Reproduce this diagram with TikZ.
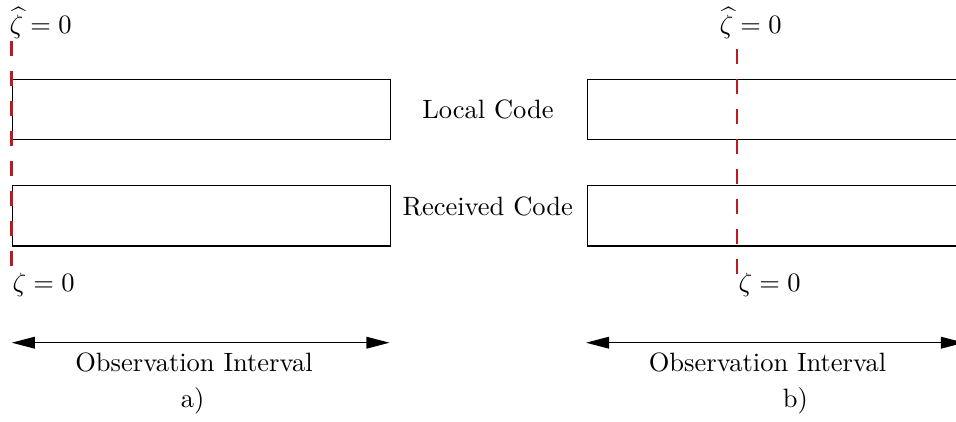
\documentclass[tikz,border=0pt]{standalone}
\usetikzlibrary{arrows.meta}
\definecolor{zred}{RGB}{190,25,35}
\begin{document}
\begin{tikzpicture}[x=0.3774pt,y=-0.3774pt,
  codebox/.style={draw,line width=0.45pt,anchor=north west,inner sep=0pt,minimum width=142.7pt,minimum height=22.8pt},
  zline/.style={draw=zred,line width=1.05pt,dash pattern=on 5.66pt off 5.66pt},
  obsarrow/.style={line width=0.5pt,{Triangle[length=8.7pt,width=4.4pt]}-{Triangle[length=8.7pt,width=4.4pt]}},
  lbl/.style={inner sep=0pt,anchor=base},
  zlbl/.style={inner sep=0pt,anchor=base west}]
\useasboundingbox (0,0) rectangle (956,421);
\clip (0,0) rectangle (956,421);
% boxes
\node[codebox] (aL) at (11.5,78.5) {};
\node[codebox] (aR) at (11.5,185) {};
\node[codebox] (bL) at (586.5,78.5) {};
\node[codebox] (bR) at (586.5,185) {};
% middle labels
\node[lbl] (local) at (488,118.3) {Local Code};
\node[lbl] (recv) at (487.7,215) {Received Code};
% dashed lines
\coordinate (aTop) at (11.5,40.7);
\coordinate (aBot) at (11.5,267);
\coordinate (bTop) at (737,49);
\coordinate (bBot) at (737,275);
\draw[zline] (aTop) -- (aBot);
\draw[zline] (bTop) -- (bBot);
% zeta labels
\node[zlbl] (ahat) at (9,33) {$\widehat{\zeta}=0$};
\node[zlbl] (bhat) at (719,33) {$\widehat{\zeta}=0$};
\node[zlbl] (az) at (12,291.7) {$\zeta=0$};
\node[zlbl] (bz) at (738,291.7) {$\zeta=0$};
% observation arrows
\coordinate (aS) at (11.7,342.7);
\coordinate (aE) at (389.5,342.7);
\coordinate (bS) at (586,342.7);
\coordinate (bE) at (964,342.7);
\draw[obsarrow] (aS) -- (aE);
\draw[obsarrow] (bS) -- (bE);
\node[lbl] (aobs) at (194,371.5) {Observation Interval};
\node[lbl] (bobs) at (767.5,371.5) {Observation Interval};
\node[lbl] (acap) at (192.7,407.5) {a)};
\node[lbl] (bcap) at (795.5,407.5) {b)};
\end{tikzpicture}
\end{document}
